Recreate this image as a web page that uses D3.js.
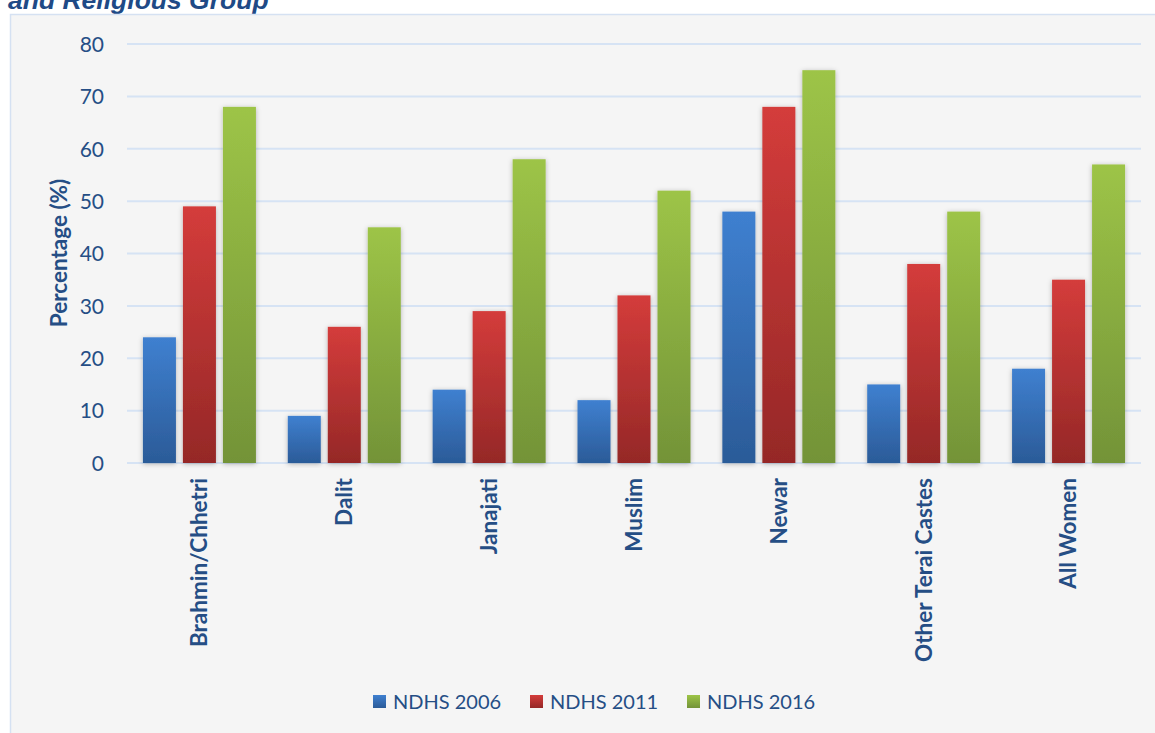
<!DOCTYPE html>
<html>
<head>
<meta charset="utf-8">
<script src="https://cdn.jsdelivr.net/npm/d3@7"></script>
<style>
  body { margin: 0; background: #ffffff; }
  svg { display: block; }
</style>
</head>
<body>
<svg id="chart" width="1155" height="733"></svg>
<script>
// Ethnic / religious groups on the x axis
const categories = ["Brahmin/Chhetri", "Dalit", "Janajati", "Muslim", "Newar", "Other Terai Castes", "All Women"];
// Survey rounds
const seriesNames = ["NDHS 2006", "NDHS 2011", "NDHS 2016"];
// Percentages per group for each survey round
const ndhs2006 = [24, 9, 14, 12, 48, 15, 18];
const ndhs2011 = [49, 26, 29, 32, 68, 38, 35];
const ndhs2016 = [68, 45, 58, 52, 75, 48, 57];
const yTicks = [0, 10, 20, 30, 40, 50, 60, 70, 80];

const seriesValues = [ndhs2006, ndhs2011, ndhs2016];
const colors = [
  { top: "#3f80d0", bottom: "#2b5b98" },
  { top: "#d43c3b", bottom: "#952827" },
  { top: "#9dc447", bottom: "#739338" }
];

const svg = d3.select("#chart");
const font = "Lato, 'Open Sans', sans-serif";
const textColor = "#254e85";

// Title fragment at top
svg.append("text")
  .attr("x", 8).attr("y", 9)
  .attr("font-family", "'Liberation Sans', Arial, sans-serif")
  .attr("font-weight", "bold").attr("font-style", "italic")
  .attr("font-size", 26.5).attr("fill", "#1f4a86")
  .text("and Religious Group");

// Chart panel
svg.append("rect")
  .attr("x", 10.5).attr("y", 14.5)
  .attr("width", 1160).attr("height", 740)
  .attr("fill", "#f5f5f5")
  .attr("stroke", "#d5e1f2").attr("stroke-width", 1.5);

const defs = svg.append("defs");
colors.forEach((c, i) => {
  const g = defs.append("linearGradient").attr("id", "grad" + i)
    .attr("x1", 0).attr("y1", 0).attr("x2", 0).attr("y2", 1);
  g.append("stop").attr("offset", "0%").attr("stop-color", c.top);
  g.append("stop").attr("offset", "100%").attr("stop-color", c.bottom);
});
const shadow = defs.append("filter").attr("id", "shadow")
  .attr("x", "-30%").attr("y", "-10%").attr("width", "160%").attr("height", "120%");
shadow.append("feDropShadow").attr("dx", 0).attr("dy", 1).attr("stdDeviation", 2.5)
  .attr("flood-color", "#000").attr("flood-opacity", 0.28);

const plot = { left: 127, right: 1141, top: 44, bottom: 463 };

const y = d3.scaleLinear().domain([0, 80]).range([plot.bottom, plot.top]);
const x0 = d3.scaleBand().domain(categories).range([plot.left, plot.right]).paddingInner(0).paddingOuter(0);
const x1 = d3.scaleBand().domain(seriesNames).range([x0.bandwidth() / 2 - 56.5, x0.bandwidth() / 2 + 56.5]).paddingInner(0.175);

// Gridlines
svg.append("g")
  .selectAll("line").data(yTicks).join("line")
  .attr("x1", plot.left).attr("x2", plot.right)
  .attr("y1", d => y(d)).attr("y2", d => y(d))
  .attr("stroke", "#d6e3f4").attr("stroke-width", 2);

// Y axis labels
const yAxis = d3.axisLeft(y).tickValues(yTicks).tickSize(0).tickPadding(0);
const yg = svg.append("g").attr("transform", `translate(104,0)`).call(yAxis);
yg.select(".domain").remove();
yg.selectAll("text")
  .attr("font-family", font).attr("font-size", 21)
  .attr("fill", textColor).attr("dy", "0.35em");

// Y axis title
svg.append("text")
  .attr("transform", `translate(67,253) rotate(-90)`)
  .attr("text-anchor", "middle")
  .attr("font-family", font).attr("font-weight", "bold")
  .attr("font-size", 22.5).attr("fill", textColor)
  .text("Percentage (%)");

// Bars
const groups = svg.append("g").selectAll("g").data(categories).join("g")
  .attr("transform", d => `translate(${x0(d)},0)`);
groups.selectAll("rect")
  .data((d, ci) => seriesNames.map((s, si) => ({ s, si, v: seriesValues[si][ci] })))
  .join("rect")
  .attr("x", d => x1(d.s))
  .attr("width", x1.bandwidth())
  .attr("y", d => y(d.v))
  .attr("height", d => y(0) - y(d.v))
  .attr("fill", d => `url(#grad${d.si})`)
  .attr("filter", "url(#shadow)");

// X axis category labels (rotated)
const xAxis = d3.axisBottom(x0).tickSize(0).tickPadding(0);
const xg = svg.append("g").attr("transform", `translate(0,${plot.bottom})`).call(xAxis);
xg.select(".domain").remove();
xg.selectAll("text")
  .attr("font-family", font).attr("font-weight", "bold")
  .attr("font-size", 22.5).attr("fill", textColor)
  .attr("text-anchor", "end")
  .attr("transform", "rotate(-90)")
  .attr("x", -15).attr("y", 0).attr("dy", "0.35em");

// Legend
const legendItems = [
  { name: seriesNames[0], x: 373 },
  { name: seriesNames[1], x: 530 },
  { name: seriesNames[2], x: 687 }
];
const lg = svg.append("g").selectAll("g").data(legendItems).join("g")
  .attr("transform", d => `translate(${d.x},695)`);
lg.append("rect").attr("width", 13).attr("height", 13)
  .attr("fill", (d, i) => `url(#grad${i})`);
lg.append("text").attr("x", 20).attr("y", 6.5).attr("dy", "0.35em")
  .attr("font-family", font).attr("font-size", 20).attr("fill", textColor)
  .text(d => d.name);
</script>
</body>
</html>
